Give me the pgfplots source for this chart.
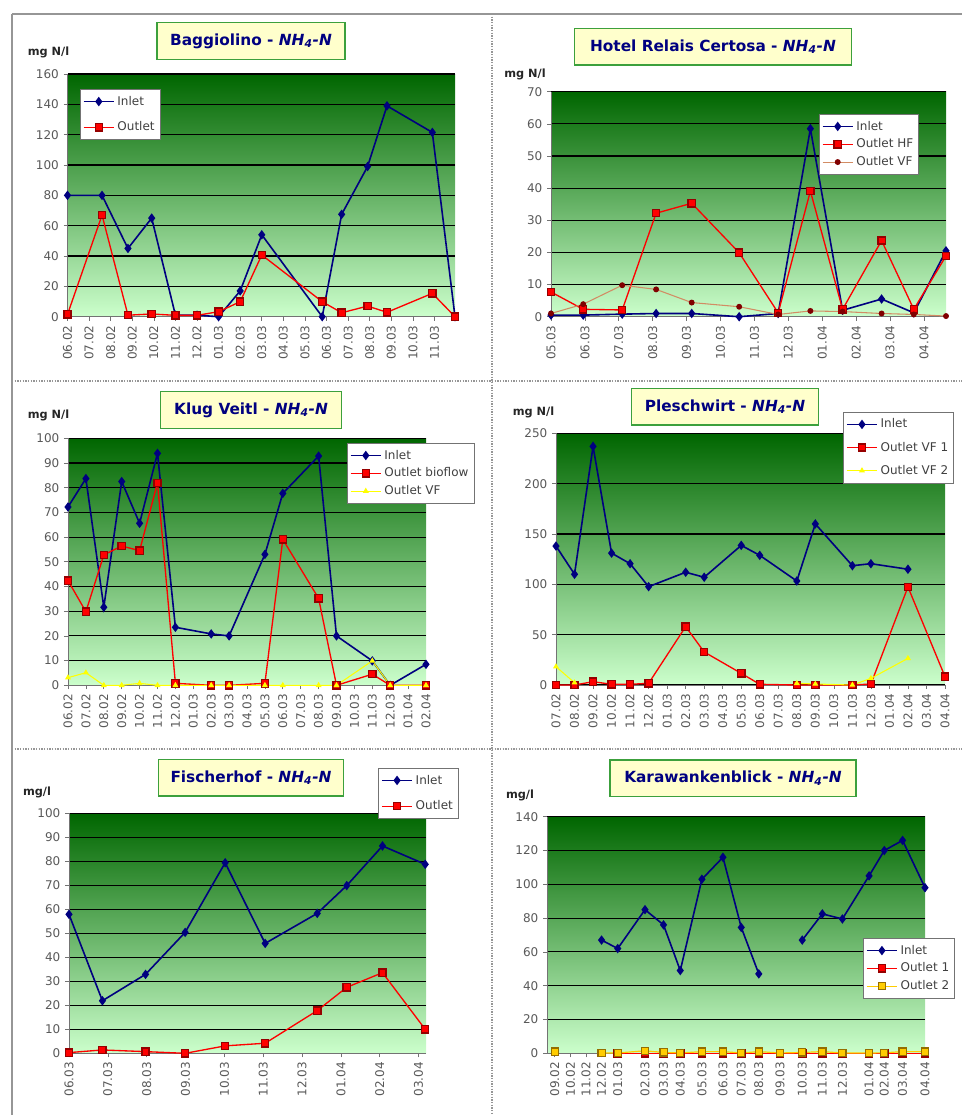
\documentclass[border=0pt]{standalone}
\usepackage{pgfplots}
\pgfplotsset{compat=1.18}
\usepackage{fontspec}
\setmainfont{DejaVu Sans}

\definecolor{gtop}{RGB}{0,102,0}
\definecolor{gbot}{RGB}{204,255,204}
\definecolor{inlet}{RGB}{0,0,128}
\definecolor{outred}{RGB}{255,0,0}
\definecolor{sqedge}{RGB}{150,0,0}
\definecolor{vfline}{RGB}{210,140,100}
\definecolor{vfdot}{RGB}{128,0,0}
\definecolor{yel}{RGB}{255,255,0}
\definecolor{goldfill}{RGB}{255,204,0}
\definecolor{goldedge}{RGB}{150,110,0}
\definecolor{titlefill}{RGB}{255,255,204}
\definecolor{titledraw}{RGB}{60,160,60}
\definecolor{titletext}{RGB}{0,0,128}
\definecolor{sep}{RGB}{150,150,150}

\pgfplotsset{
  panel/.style={
    scale only axis,
    axis background/.style={shade, top color=gtop, bottom color=gbot},
    axis x line*=bottom, axis y line*=left,
    axis line style={black!55, line width=0.7pt},
    ymin=0,
    ymajorgrids, major grid style={black, line width=0.8pt},
    tick align=outside, major tick length=3pt,
    tick style={black!55, line width=0.5pt},
    ticklabel style={font=\fontsize{9}{10}\selectfont, text=black!65},
    xticklabel style={rotate=90, anchor=east},
    /pgf/number format/assume math mode=true,
    clip=false,
    unbounded coords=jump,
    legend cell align=left,
    legend image code/.code={%
      \draw[mark repeat=2, mark phase=2] plot coordinates {(0cm,0cm) (0.4cm,0cm) (0.8cm,0cm)};},
    legend style={font=\fontsize{9}{10}\selectfont, draw=black!55, fill=white,
      text=black!75, inner xsep=2pt, inner ysep=3pt, anchor=north west},
  },
  inl/.style={color=inlet, line width=1.2pt, mark=diamond*, mark size=2.6pt,
    mark options={fill=inlet, draw=inlet, solid}},
  outl/.style={color=outred, line width=1pt, mark=square*, mark size=2.7pt,
    mark options={fill=outred, draw=sqedge, solid}},
  vfb/.style={color=vfline, line width=0.8pt, mark=*, mark size=1.8pt,
    mark options={fill=vfdot, draw=vfdot, solid}},
  vfy/.style={color=yel, line width=0.8pt, mark=triangle*, mark size=1.8pt,
    mark options={fill=yel, draw=yel, solid}},
  gold/.style={color=goldfill, line width=0.9pt, mark=square*, mark size=2.7pt,
    mark options={fill=goldfill, draw=goldedge, solid}},
}

\tikzset{
  ptitle/.style={draw=titledraw, fill=titlefill, line width=1pt, text=titletext,
    font=\fontsize{11.5}{13}\selectfont\bfseries, inner sep=0pt},
  unit/.style={font=\fontsize{8.5}{10}\selectfont\bfseries, text=black!85, inner sep=0pt},
}

\begin{document}
\begin{tikzpicture}
\path[use as bounding box] (0,0) rectangle (721.5pt,-836.25pt);

% frame and separators between the six panels
\begin{scope}[x=0.75pt, y=-0.75pt]
  \draw[sep, line width=0.8pt] (12,14) -- (962,14);
  \draw[sep, line width=0.8pt] (12,14) -- (12,1115);
  \draw[sep, line width=1pt, dash pattern=on 1pt off 1pt] (492,14) -- (492,1115);
  \draw[sep, line width=1pt, dash pattern=on 1pt off 1pt] (12,381) -- (962,381);
  \draw[sep, line width=1pt, dash pattern=on 1pt off 1pt] (12,749) -- (962,749);
\end{scope}

% ---------- Baggiolino ----------
\begin{axis}[panel,
  at={(50.625pt,-237.525pt)}, anchor=south west,
  width=290.625pt, height=182.025pt,
  xmin=0, xmax=17.95, ymax=160, ytick={0,20,...,160},
  xtick={0,...,17},
  xticklabels={06.02,07.02,08.02,09.02,10.02,11.02,12.02,01.03,02.03,03.03,04.03,05.03,06.03,07.03,08.03,09.03,10.03,11.03},
  legend style={at={(0.032,0.938)}, row sep=7pt},
]
\addplot[inl] coordinates {(0,80)(1.6,80)(2.8,45)(3.9,65)(5.0,1)(6.0,1)(7.0,0)(8.0,17)(9.0,54)(11.8,0)(12.7,67.5)(13.9,99)(14.8,139)(16.9,121.5)(17.95,0)};
\addlegendentry{Inlet}
\addplot[outl] coordinates {(0,1.5)(1.6,67)(2.8,1)(3.9,1.8)(5.0,0.9)(6.0,0.9)(7.0,3.3)(8.0,9.9)(9.0,40.7)(11.8,9.9)(12.7,2.6)(13.9,7)(14.8,2.9)(16.9,15.4)(17.95,0)};
\addlegendentry{Outlet}
\end{axis}

% ---------- Hotel Relais Certosa ----------
\begin{axis}[panel,
  at={(413.25pt,-237.525pt)}, anchor=south west,
  width=296.25pt, height=168.75pt,
  xmin=0, xmax=11.65, ymax=70, ytick={0,10,...,70},
  xtick={0,...,11},
  xticklabels={05.03,06.03,07.03,08.03,09.03,10.03,11.03,12.03,01.04,02.04,03.04,04.04},
  legend style={at={(0.678,0.901)}, row sep=1pt},
]
\addplot[inl] coordinates {(0,0.5)(0.95,0.5)(2.1,0.8)(3.1,1)(4.15,1)(5.55,0)(6.7,1)(7.65,58.5)(8.6,2)(9.75,5.5)(10.7,1.2)(11.65,20.5)};
\addlegendentry{Inlet}
\addplot[outl] coordinates {(0,7.7)(0.95,2.3)(2.1,2.1)(3.1,32.2)(4.15,35.3)(5.55,19.9)(6.7,1.2)(7.65,39.1)(8.6,2.3)(9.75,23.7)(10.7,2.3)(11.65,18.9)};
\addlegendentry{Outlet HF}
\addplot[vfb] coordinates {(0,1)(0.95,3.9)(2.1,9.8)(3.1,8.5)(4.15,4.4)(5.55,3.1)(6.7,0.7)(7.65,1.8)(8.6,1.6)(9.75,1)(10.7,0.7)(11.65,0.2)};
\addlegendentry{Outlet VF}
\end{axis}

% ---------- Klug Veitl ----------
\begin{axis}[panel,
  at={(51pt,-513.975pt)}, anchor=south west,
  width=268.5pt, height=185.25pt,
  xmin=0, xmax=20, ymax=100, ytick={0,10,...,100},
  xtick={0,...,20},
  xticklabels={06.02,07.02,08.02,09.02,10.02,11.02,12.02,01.03,02.03,03.03,04.03,05.03,06.03,07.03,08.03,09.03,10.03,11.03,12.03,01.04,02.04},
  legend style={at={(0.779,0.981)}, row sep=1pt},
]
\addplot[inl] coordinates {(0,72.2)(1,83.7)(2,31.6)(3,82.5)(4,65.6)(5,93.9)(6,23.5)(8,20.8)(9,20)(11,53)(12,77.7)(14,92.8)(15,20)(17,9.9)(18,0)(20,8.5)};
\addlegendentry{Inlet}
\addplot[outl] coordinates {(0,42.4)(1,29.8)(2,52.8)(3,56.4)(4,54.5)(5,82)(6,0.8)(8,0)(9,0)(11,0.8)(12,59.1)(14,35.2)(15,0)(17,4.5)(18,0)(20,0)};
\addlegendentry{Outlet bioflow}
\addplot[vfy] coordinates {(0,3.1)(1,5.1)(2,0)(3,0)(4,0.8)(5,0)(6,0)(8,0)(9,0)(11,0)(12,0)(14,0)(15,0)(17,9.9)(18,0)(20,0)};
\addlegendentry{Outlet VF}
\end{axis}

% ---------- Pleschwirt ----------
\begin{axis}[panel,
  at={(417pt,-513.75pt)}, anchor=south west,
  width=291.75pt, height=188.775pt,
  xmin=0, xmax=21, ymax=250, ytick={0,50,...,250},
  xtick={0,...,21},
  xticklabels={07.02,08.02,09.02,10.02,11.02,12.02,01.03,02.03,03.03,04.03,05.03,06.03,07.03,08.03,09.03,10.03,11.03,12.03,01.04,02.04,03.04,04.04},
  legend style={at={(0.738,1.085)}, row sep=5pt},
]
\addplot[inl] coordinates {(0,138)(1,110)(2,237)(3,131)(4,120.5)(5,97.7)(7,112)(8,107)(10,138.7)(11,128.8)(13,103.3)(14,160)(16,118.5)(17,120.5)(19,115)};
\addlegendentry{Inlet}
\addplot[outl] coordinates {(0,0)(1,0)(2,3.3)(3,0.7)(4,0.7)(5,1.7)(7,58)(8,32.8)(10,11.6)(11,0.7)(13,0)(14,0)(16,0)(17,1)(19,97.4)(21,8.3)};
\addlegendentry{Outlet VF 1}
\addplot[vfy] coordinates {(0,18.2)(1,2.3)(2,nan)(13,1.7)(14,1)(16,0)(17,6.6)(19,26.5)};
\addlegendentry{Outlet VF 2}
\end{axis}

% ---------- Fischerhof ----------
\begin{axis}[panel,
  at={(51.75pt,-789.975pt)}, anchor=south west,
  width=267.75pt, height=180pt,
  xmin=0, xmax=9.19, ymax=100, ytick={0,10,...,100},
  xtick={0,...,9},
  xticklabels={06.03,07.03,08.03,09.03,10.03,11.03,12.03,01.04,02.04,03.04},
  legend style={at={(0.866,1.189)}, row sep=7pt},
]
\addplot[inl] coordinates {(0,57.9)(0.86,21.9)(1.97,32.9)(2.99,50.4)(4.02,79.4)(5.05,45.8)(6.39,58.3)(7.15,69.9)(8.07,86.4)(9.17,78.75)};
\addlegendentry{Inlet}
\addplot[outl] coordinates {(0,0.3)(0.86,1.4)(1.97,0.7)(2.99,0)(4.02,3.1)(5.05,4.2)(6.39,17.8)(7.15,27.5)(8.07,33.6)(9.17,10)};
\addlegendentry{Outlet}
\end{axis}

% ---------- Karawankenblick ----------
\begin{axis}[panel,
  at={(410.25pt,-789.975pt)}, anchor=south west,
  width=283.5pt, height=177.45pt,
  xmin=-0.4, xmax=19, ymax=140, ytick={0,20,...,140},
  xtick={0,0.8,1.6,2.4,3.23,4.63,5.58,6.44,7.55,8.63,9.57,10.47,11.56,12.7,13.73,14.76,16.13,16.91,17.85,19},
  xticklabels={09.02,10.02,11.02,12.02,01.03,02.03,03.03,04.03,05.03,06.03,07.03,08.03,09.03,10.03,11.03,12.03,01.04,02.04,03.04,04.04},
  legend style={at={(0.836,0.487)}, row sep=1pt},
]
\addplot[inl] coordinates {(2.4,67)(3.23,62)(4.63,85)(5.58,76)(6.44,49)(7.55,103)(8.63,116)(9.57,74.5)(10.47,47)(11.56,nan)(12.7,67)(13.73,82.5)(14.76,79.5)(16.13,105)(16.91,120)(17.85,126)(19,98)};
\addlegendentry{Inlet}
\addplot[outl] coordinates {(3.23,0)(4.63,0)(5.58,0)(6.44,0)(7.55,0)(8.63,0)(9.57,0)(10.47,0)(11.56,0)(12.7,0)(13.73,0)(14.76,0)(16.13,0)(16.91,0)(17.85,0)(19,0)};
\addlegendentry{Outlet 1}
\addplot[gold] coordinates {(0,1)(0.8,nan)(2.4,0.2)(3.23,0.2)(4.63,1.5)(5.58,0.5)(6.44,0.2)(7.55,1)(8.63,1)(9.57,0.2)(10.47,1)(11.56,0.2)(12.7,0.5)(13.73,1)(14.76,0.2)(16.13,0.2)(16.91,0.3)(17.85,1)(19,1)};
\addlegendentry{Outlet 2}
\end{axis}

% panel titles and units
\begin{scope}[x=0.75pt, y=-0.75pt]
  \node[ptitle, minimum width=141pt, minimum height=27.5pt] at (251,41) {Baggiolino - \textit{NH\textsubscript{4}-N}};
  \node[ptitle, minimum width=207.5pt, minimum height=27.5pt] at (713,46.7) {Hotel Relais Certosa - \textit{NH\textsubscript{4}-N}};
  \node[ptitle, minimum width=135.5pt, minimum height=27.5pt] at (251,410) {Klug Veitl - \textit{NH\textsubscript{4}-N}};
  \node[ptitle, minimum width=140pt, minimum height=27.5pt] at (725,406.7) {Pleschwirt - \textit{NH\textsubscript{4}-N}};
  \node[ptitle, minimum width=138.5pt, minimum height=27.5pt] at (251,777.7) {Fischerhof - \textit{NH\textsubscript{4}-N}};
  \node[ptitle, minimum width=184.5pt, minimum height=27.5pt] at (733,778.3) {Karawankenblick - \textit{NH\textsubscript{4}-N}};
  \node[unit] at (48.5,52) {mg N/l};
  \node[unit] at (525,74) {mg N/l};
  \node[unit] at (48.5,415) {mg N/l};
  \node[unit] at (533.5,412) {mg N/l};
  \node[unit] at (37,792) {mg/l};
  \node[unit] at (520,795) {mg/l};
\end{scope}
\end{tikzpicture}
\end{document}
